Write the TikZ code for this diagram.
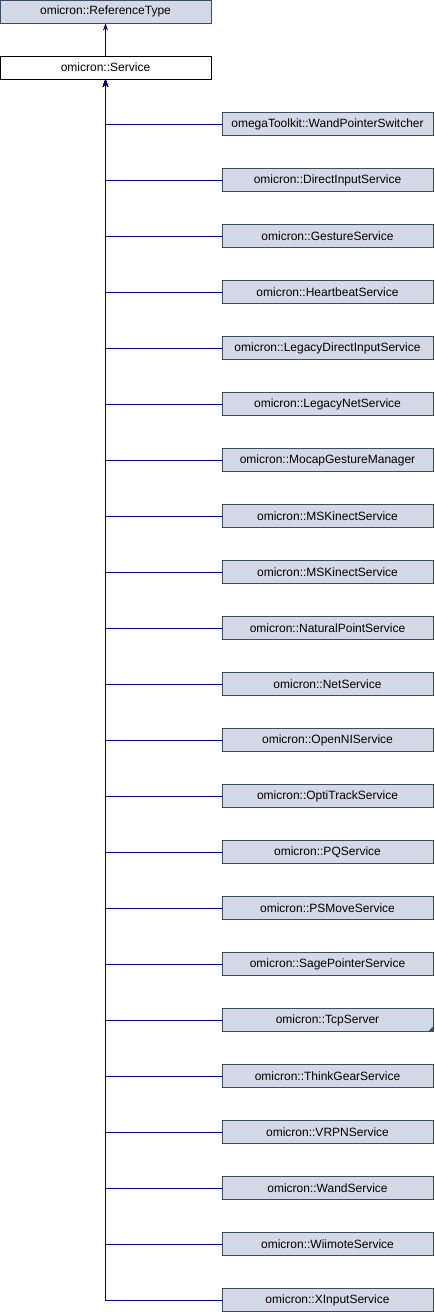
\documentclass[tikz,border=0pt]{standalone}
\usepackage{fontspec}
\setmainfont{Liberation Sans}
\usetikzlibrary{arrows.meta}
\definecolor{boxfill}{HTML}{D3DAE6}
\definecolor{boxdraw}{HTML}{3E4C69}
\definecolor{edgec}{HTML}{00007F}
\begin{document}
\begin{tikzpicture}[x=1pt,y=-1pt,
  cls/.style={draw=boxdraw,fill=boxfill,line width=1pt,minimum width=211pt,minimum height=23pt,inner sep=0pt,font=\fontsize{12}{14}\selectfont},
  cur/.style={cls,draw=black,fill=white},
  inh/.style={draw=edgec,line width=1pt,{Stealth[length=7pt,width=5pt]}-}]
\useasboundingbox (0,0) rectangle (434,1312);
\node[cls] (ref) at (105.5,11.5) {omicron::ReferenceType};
\node[cur] (svc) at (105.5,67.5) {omicron::Service};
\draw[inh] (ref.south) -- (svc.north);
\foreach \name [count=\i from 0] in {
  omegaToolkit::WandPointerSwitcher,
  omicron::DirectInputService,
  omicron::GestureService,
  omicron::HeartbeatService,
  omicron::LegacyDirectInputService,
  omicron::LegacyNetService,
  omicron::MocapGestureManager,
  omicron::MSKinectService,
  omicron::MSKinectService,
  omicron::NaturalPointService,
  omicron::NetService,
  omicron::OpenNIService,
  omicron::OptiTrackService,
  omicron::PQService,
  omicron::PSMoveService,
  omicron::SagePointerService,
  omicron::TcpServer,
  omicron::ThinkGearService,
  omicron::VRPNService,
  omicron::WandService,
  omicron::WiimoteService,
  omicron::XInputService}{
  \node[cls] (c\i) at (327.5,{124+56*\i}) {\name};
  \draw[inh] (svc.south) |- (c\i.west);
}
\fill[boxdraw] ([xshift=-0.5pt,yshift=0.5pt]c16.south east) -- ++(-5,0) -- ++(5,-5) -- cycle;
\end{tikzpicture}
\end{document}
